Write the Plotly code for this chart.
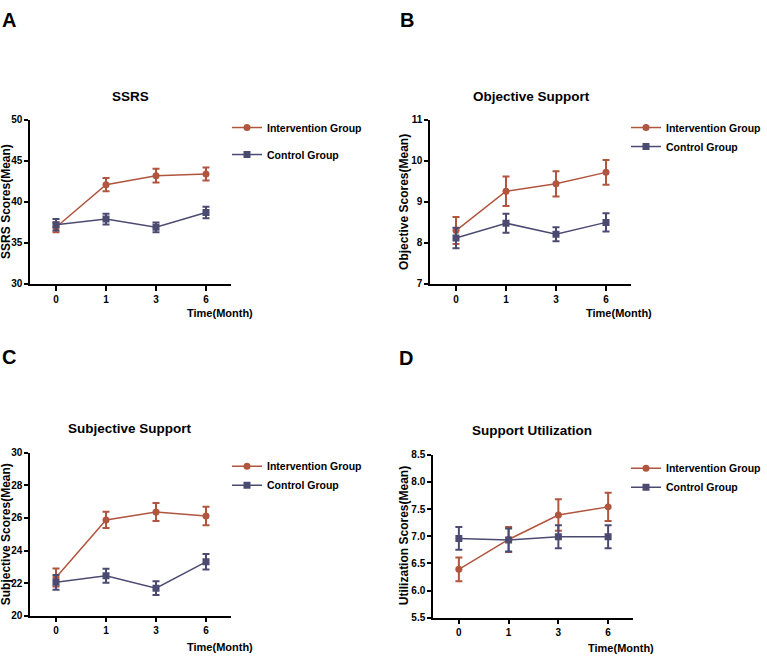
import plotly.graph_objects as go

W, H = 767, 662
months = ["0", "1", "3", "6"]

# Panel A: SSRS
ssrs_int = [36.9, 42.1, 43.2, 43.4]
ssrs_int_err = [0.6, 0.8, 0.85, 0.8]
ssrs_ctl = [37.2, 37.9, 36.9, 38.7]
ssrs_ctl_err = [0.7, 0.65, 0.6, 0.7]

# Panel B: Objective support
obj_int = [8.30, 9.26, 9.44, 9.72]
obj_int_err = [0.33, 0.36, 0.31, 0.30]
obj_ctl = [8.12, 8.48, 8.21, 8.50]
obj_ctl_err = [0.25, 0.23, 0.17, 0.22]

# Panel C: Subjective support
sub_int = [22.35, 25.88, 26.37, 26.12]
sub_int_err = [0.55, 0.5, 0.55, 0.57]
sub_ctl = [22.05, 22.45, 21.69, 23.31]
sub_ctl_err = [0.45, 0.43, 0.42, 0.48]

# Panel D: Support utilization
uti_int = [6.39, 6.94, 7.39, 7.54]
uti_int_err = [0.22, 0.23, 0.29, 0.26]
uti_ctl = [6.96, 6.93, 6.99, 6.99]
uti_ctl_err = [0.21, 0.21, 0.21, 0.21]

RED = "#B0553E"
BLUE = "#4B4B72"
FONT = "Liberation Sans, Arial, sans-serif"

def fx(px):
    return px / W

def fy(py):
    return 1 - py / H

panels = [
    dict(letter="A", title="SSRS", ytitle="SSRS Scores(Mean)",
         yi=ssrs_int, ei=ssrs_int_err, yc=ssrs_ctl, ec=ssrs_ctl_err,
         yr=[30, 50], dt=5, fmt="", box=(30, 231, 116, 283),
         lp=(0, 14), tp=(130, 92), ytx=6, tm=(220, 313), lg=(227, 109, 8)),
    dict(letter="B", title="Objective Support", ytitle="Objective Scores(Mean)",
         yi=obj_int, ei=obj_int_err, yc=obj_ctl, ec=obj_ctl_err,
         yr=[7, 11], dt=1, fmt="", box=(430, 631, 116, 283),
         lp=(398, 14), tp=(531, 92), ytx=404, tm=(619, 313), lg=(626, 109, 0)),
    dict(letter="C", title="Subjective Support", ytitle="Subjective Scores(Mean)",
         yi=sub_int, ei=sub_int_err, yc=sub_ctl, ec=sub_ctl_err,
         yr=[20, 30], dt=2, fmt="", box=(30, 231, 455, 621),
         lp=(0, 357), tp=(130, 430), ytx=6, tm=(220, 653), lg=(227, 454, 0)),
    dict(letter="D", title="Support Utilization", ytitle="Utilization Scores(Mean)",
         yi=uti_int, ei=uti_int_err, yc=uti_ctl, ec=uti_ctl_err,
         yr=[5.5, 8.5], dt=0.5, fmt=".1f", box=(433, 633, 457, 623),
         lp=(397, 359), tp=(532, 432), ytx=404, tm=(621, 654), lg=(626, 456, 0)),
]

fig = go.Figure()
annotations = []
layout = {}
for i, p in enumerate(panels):
    n = "" if i == 0 else str(i + 1)
    xa, ya = "x" + n, "y" + n
    lgname = "legend" + n
    common = dict(x=months, xaxis=xa, yaxis=ya, mode="lines+markers", legend=lgname)
    fig.add_trace(go.Scatter(
        y=p["yi"], name="Intervention Group", legendgroup="i" + n,
        line=dict(color=RED, width=1.5),
        marker=dict(symbol="circle", size=7, color=RED),
        error_y=dict(type="data", array=p["ei"], color=RED, thickness=2, width=3.5),
        **common))
    fig.add_trace(go.Scatter(
        y=p["yc"], name="Control Group", legendgroup="c" + n,
        line=dict(color=BLUE, width=1.5),
        marker=dict(symbol="square", size=7, color=BLUE),
        error_y=dict(type="data", array=p["ec"], color=BLUE, thickness=2, width=3.5),
        **common))
    x0, x1, yt, yb = p["box"]
    layout["xaxis" + n] = dict(
        domain=[fx(x0), fx(x1)], anchor=ya, type="category", range=[-0.52, 3.5],
        showline=True, linecolor="black", linewidth=1.5, ticks="outside",
        ticklen=5, tickwidth=1.5, tickcolor="black", showgrid=False, zeroline=False,
        tickfont=dict(family=FONT, size=10, color="black", weight="bold"), fixedrange=True)
    layout["yaxis" + n] = dict(
        domain=[fy(yb), fy(yt)], anchor=xa, range=p["yr"], dtick=p["dt"],
        tickformat=p["fmt"], showline=True, linecolor="black", linewidth=1.5,
        ticks="outside", ticklen=4, tickwidth=1.5, tickcolor="black",
        showgrid=False, zeroline=False,
        tickfont=dict(family=FONT, size=10, color="black", weight="bold"), fixedrange=True)
    lx, ly, gap = p["lg"]
    layout[lgname] = dict(
        x=fx(lx), y=fy(ly), xanchor="left", yanchor="top", bgcolor="rgba(0,0,0,0)",
        font=dict(family=FONT, size=10.5, color="black", weight="bold"), tracegroupgap=gap,
        traceorder="grouped", itemwidth=30, borderwidth=0)
    annotations.append(dict(text="<b>%s</b>" % p["letter"], x=fx(p["lp"][0]), y=fy(p["lp"][1]),
                            xref="paper", yref="paper", xanchor="left", yanchor="middle",
                            showarrow=False, font=dict(family=FONT, size=20, color="black")))
    annotations.append(dict(text="<b>%s</b>" % p["title"], x=fx(p["tp"][0]), y=fy(p["tp"][1]),
                            xref="paper", yref="paper", xanchor="center", yanchor="middle",
                            showarrow=False, font=dict(family=FONT, size=13.5, color="black")))
    annotations.append(dict(text="<b>%s</b>" % p["ytitle"], x=fx(p["ytx"]), y=fy((yt + yb) / 2),
                            xref="paper", yref="paper", xanchor="center", yanchor="middle",
                            textangle=-90, showarrow=False,
                            font=dict(family=FONT, size=12, color="black")))
    annotations.append(dict(text="<b>Time(Month)</b>", x=fx(p["tm"][0]), y=fy(p["tm"][1]),
                            xref="paper", yref="paper", xanchor="center", yanchor="middle",
                            showarrow=False, font=dict(family=FONT, size=11, color="black")))

fig.update_layout(
    width=W, height=H, margin=dict(l=0, r=0, t=0, b=0),
    paper_bgcolor="white", plot_bgcolor="white",
    font=dict(family=FONT, color="black"),
    annotations=annotations, showlegend=True, **layout)

fig.write_html(
    "out.html",
    config={"displayModeBar": False},
    post_script=(
        "document.body.style.margin='0';"
        "document.body.style.overflow='hidden';"
        "document.documentElement.style.overflow='hidden';"
    ),
)
